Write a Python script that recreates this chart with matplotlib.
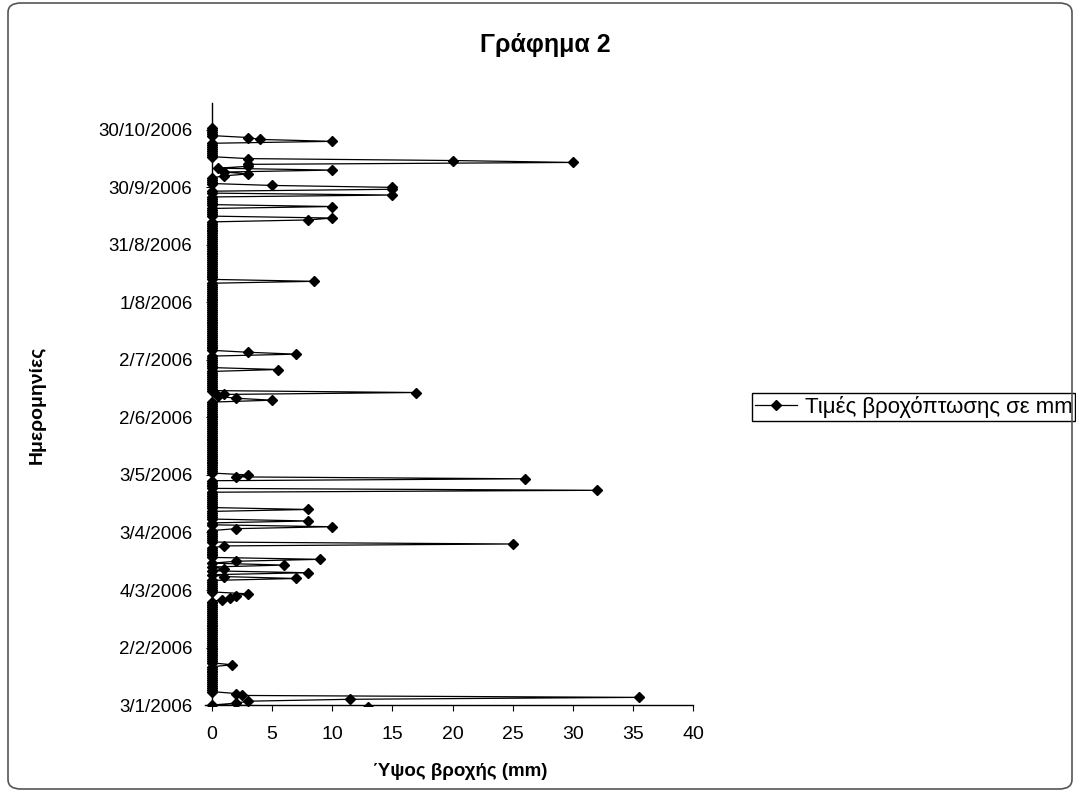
import matplotlib
matplotlib.use("Agg")
import matplotlib.pyplot as plt
import matplotlib.dates as mdates
from matplotlib.patches import FancyBboxPatch
import pandas as pd

plt.rcParams['font.family'] = ['Liberation Sans', 'DejaVu Sans']

# daily rainfall (mm); days not listed had no rain
rain_dates = ["2006-01-02", "2006-01-04", "2006-01-05", "2006-01-06", "2006-01-07",
              "2006-01-08", "2006-01-09", "2006-01-24", "2006-02-27", "2006-02-28",
              "2006-03-01", "2006-03-02", "2006-03-10", "2006-03-11", "2006-03-13",
              "2006-03-15", "2006-03-17", "2006-03-19", "2006-03-20", "2006-03-27",
              "2006-03-28", "2006-04-05", "2006-04-06", "2006-04-09", "2006-04-15",
              "2006-04-25", "2006-05-01", "2006-05-02", "2006-05-03", "2006-06-11",
              "2006-06-12", "2006-06-13", "2006-06-14", "2006-06-15", "2006-06-27",
              "2006-07-05", "2006-07-06", "2006-08-12", "2006-09-13", "2006-09-14",
              "2006-09-20", "2006-09-26", "2006-09-29", "2006-09-30", "2006-10-01",
              "2006-10-06", "2006-10-07", "2006-10-08", "2006-10-09", "2006-10-10",
              "2006-10-11", "2006-10-12", "2006-10-13", "2006-10-14", "2006-10-15",
              "2006-10-24", "2006-10-25", "2006-10-26"]
rain_mm = [13, 2, 3, 11.5, 35.5,
           2.5, 2, 1.7, 0.8, 1.5,
           2, 3, 7, 1, 8,
           1, 6, 2, 9, 1,
           25, 2, 10, 8, 8,
           32, 26, 2, 3, 5,
           2, 0.5, 1, 17, 5.5,
           7, 3, 8.5, 8, 10,
           10, 15, 15, 15, 5,
           1, 3, 1, 10, 0.5,
           3, 3, 30, 20, 3,
           10, 4, 3]
first_day = "2006-01-02"
last_day = "2006-10-31"

tick_dates = ["2006-01-03", "2006-02-02", "2006-03-04", "2006-04-03", "2006-05-03",
              "2006-06-02", "2006-07-02", "2006-08-01", "2006-08-31", "2006-09-30",
              "2006-10-30"]
tick_labels = ["3/1/2006", "2/2/2006", "4/3/2006", "3/4/2006", "3/5/2006",
               "2/6/2006", "2/7/2006", "1/8/2006", "31/8/2006", "30/9/2006",
               "30/10/2006"]
x_ticks = [0, 5, 10, 15, 20, 25, 30, 35, 40]

s = pd.Series(rain_mm, index=pd.to_datetime(rain_dates))
days = pd.date_range(first_day, last_day, freq="D")
s = s.reindex(days, fill_value=0)
ynum = mdates.date2num(s.index.to_pydatetime())

fig = plt.figure(figsize=(10.76, 7.92), dpi=100)
W, H = 1076, 792
ax = fig.add_axes([204.8 / W, (H - 706) / H, 488.2 / W, (706 - 103) / H])

ax.plot(s.values, ynum, color="black", lw=0.9, marker="D", ms=5.2,
        label="Τιμές βροχόπτωσης σε mm")

t0 = mdates.date2num(pd.Timestamp(tick_dates[0]).to_pydatetime())
ax.set_xlim(-0.6, 40)
ax.set_ylim(t0 - 0.5, t0 + 314)
ax.spines['left'].set_position(('data', 0))
ax.spines['bottom'].set_position(('data', t0))
ax.spines['top'].set_visible(False)
ax.spines['right'].set_visible(False)
for sp in ('left', 'bottom'):
    ax.spines[sp].set_linewidth(1.0)

ax.set_xticks(x_ticks)
ax.set_xticklabels([str(v) for v in x_ticks])
ax.set_yticks(mdates.date2num(pd.to_datetime(tick_dates).to_pydatetime()))
ax.set_yticklabels(tick_labels)
ax.tick_params(axis='both', direction='out', length=4, width=0.8, labelsize=13.5)
ax.tick_params(axis='x', pad=11, labelsize=14)
ax.tick_params(axis='y', pad=10)
ax.patch.set_alpha(0)

fig.text(545 / W, 1 - 45 / H, "Γράφημα 2", ha="center", va="center",
         fontsize=18, fontweight="bold")
fig.text(460 / W, 1 - 771 / H, "Ύψος βροχής (mm)", ha="center", va="center",
         fontsize=13.5, fontweight="bold")
fig.text(37 / W, 1 - 405 / H, "Ημερομηνίες", ha="center", va="center",
         rotation=90, fontsize=14, fontweight="bold")

leg = ax.legend(loc="center left", bbox_to_anchor=(752 / W, 1 - 407 / H),
                bbox_transform=fig.transFigure, fontsize=16, frameon=True,
                fancybox=False, framealpha=1, edgecolor="black",
                handlelength=1.9, handletextpad=0.35, borderpad=0.12,
                borderaxespad=0)
leg.get_frame().set_linewidth(1.0)

fig.patches.append(FancyBboxPatch((8 / W, 3 / H), 1064 / W, 786 / H,
                                  boxstyle="round,pad=0,rounding_size=0.012",
                                  transform=fig.transFigure, fill=False,
                                  ec="#555555", lw=1.2))

fig.savefig("out.png", dpi=100)
